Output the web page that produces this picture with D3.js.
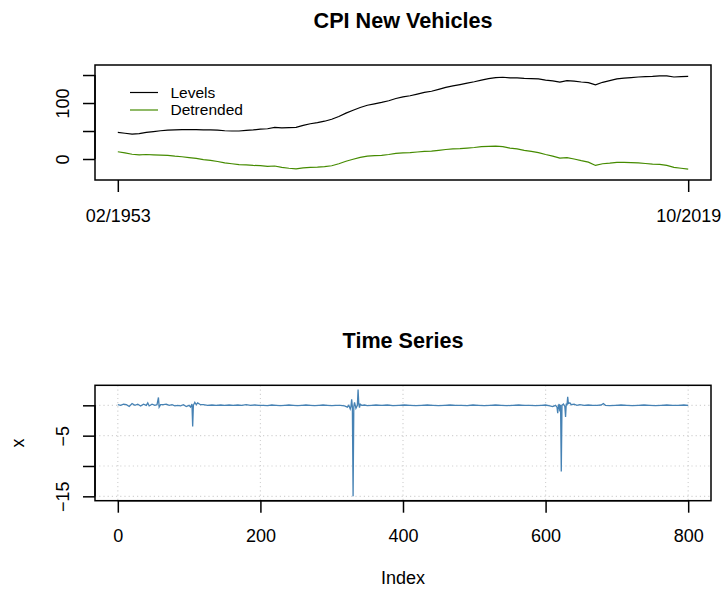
<!doctype html>
<html lang='en'>
<head>
    <meta charset='UTF-8'>
    <title>CPI New Vehicles</title>
    <style>
        body,html{
            margin: 0;
            padding: 0;
            background: #fff;
            font-family: 'Liberation Sans', Arial, sans-serif;
        }
        svg text{
            fill: #000;
        }
        .axis path,
        .axis line{
            fill: none;
            stroke: #000;
            stroke-width: 1.5px;
        }
        .grid line{
            stroke: #d3d3d3;
            stroke-width: 1.2px;
            stroke-dasharray: 1.2,3;
        }
        .box{
            fill: none;
            stroke: #000;
            stroke-width: 1.5px;
        }
    </style>
</head>
<body>
<script src='https://d3js.org/d3.v7.min.js'></script>
<script>
  // top panel: month index 0 = 02/1953, 800 = 10/2019, sampled every 10 months
  const monthIdx = d3.range(0, 801, 10)
  const levels = [
    47.5, 46, 44.5, 45.5, 47.5, 49, 50.5, 51.5, 52, 52.5,
    52.5, 52.5, 52, 52, 51.5, 50.5, 50, 50, 51, 52,
    53.5, 54, 56.5, 55.5, 56, 56.5, 60, 63, 65, 67.5,
    71, 76, 82, 87, 92, 96, 98.5, 101, 104, 108,
    111, 113, 116, 119, 121, 124.5, 128, 130.5, 133, 135.5,
    138, 141, 143.5, 145.5, 146, 145, 145, 144, 143.5, 143,
    141, 139.5, 137.5, 140, 139, 137.5, 136.5, 132.5, 137, 140,
    143, 144.5, 145.5, 146.5, 147, 147.5, 148.5, 148.5, 146.5, 147,
    147.5
  ]
  const detrended = [
    13, 11, 8.5, 7.5, 8, 7.5, 7, 6.5, 5, 4,
    2.5, 1, -1, -2.5, -4.5, -7, -8.5, -10, -10.5, -11.5,
    -12, -13, -12.5, -15, -16.5, -17.5, -16, -15, -14.5, -13.5,
    -12, -8.5, -4, -0.5, 3, 5, 6, 6.5, 8, 10,
    11, 11.5, 12.5, 13.5, 14, 15.5, 17, 18, 18.5, 19.5,
    20.5, 22, 22.5, 23, 22, 19.5, 18, 15.5, 13.5, 11.5,
    8, 5, 1.5, 2.5, 0, -3, -5.5, -11.5, -8.5, -7.5,
    -6, -6, -6.5, -7, -8, -9, -9.5, -11.5, -15, -16.5,
    -18
  ]
  const topXTicks = [0, 800]
  const topXLabels = ['02/1953', '10/2019']
  const topYTicks = [0, 50, 100, 150]
  const topYLabelled = [0, 100]

  // bottom panel: monthly changes (index, value)
  const diffIdx = [
    0, 4, 8, 12, 16, 20, 24, 28, 32, 36, 40, 42, 44, 48, 52, 55, 57, 58, 60, 64,
    68, 72, 76, 80, 84, 88, 92, 96, 100, 102, 104, 105, 106, 108, 110, 112, 116, 120, 126, 132,
    138, 144, 150, 156, 162, 168, 174, 180, 186, 192, 198, 204, 210, 216, 222, 228, 234, 240, 246, 252,
    258, 264, 270, 276, 282, 288, 294, 300, 306, 312, 318, 322, 324, 326, 327, 328, 329, 330, 331, 332,
    334, 336, 337, 338, 339, 340, 342, 346, 350, 356, 362, 370, 378, 386, 394, 402, 410, 418, 426, 434,
    442, 450, 458, 466, 474, 482, 490, 498, 506, 514, 522, 530, 538, 546, 554, 562, 570, 578, 586, 594,
    600, 606, 610, 614, 616, 617, 618, 619, 620, 621, 622, 623, 625, 627, 628, 629, 630, 631, 632, 634,
    636, 640, 644, 648, 654, 660, 666, 672, 678, 681, 684, 690, 698, 706, 714, 722, 730, 738, 746, 754,
    762, 770, 778, 786, 794, 800
  ]
  const diffVal = [
    0.1, 0.0, 0.2, 0.1, -0.2, 0.3, 0.0, 0.2, -0.1, 0.2, 0.0, 0.4, -0.1, 0.2, 0.0, 0.1, 1.3, -0.3, 0.1, 0.1,
    0.2, 0.0, 0.1, -0.1, 0.0, -0.1, 0.1, -0.2, 0.0, -0.3, 0.2, -3.5, 0.0, 0.5, 0.1, 0.4, 0.1, 0.1, 0.0, 0.05,
    0.0, 0.05, 0.0, 0.05, 0.0, 0.05, 0.0, 0.1, 0.0, 0.05, 0.0, 0.0, -0.05, 0.05, 0.0, -0.05, 0.0, 0.05, 0.0, -0.05,
    0.0, 0.05, 0.0, -0.05, 0.0, 0.05, 0.0, -0.05, 0.0, 0.0, -0.1, -0.3, 0.0, -0.6, -0.2, 1.0, -0.3, -15.0, -0.2, 0.5,
    -0.5, 0.0, 2.6, 0.2, -0.4, 0.2, 0.0, 0.05, -0.05, 0.0, 0.05, 0.0, 0.05, -0.05, 0.0, 0.05, 0.0, -0.05, 0.0, 0.05,
    0.0, -0.05, 0.0, 0.05, 0.0, 0.0, -0.05, 0.05, 0.0, -0.05, 0.0, 0.05, 0.0, -0.05, 0.0, 0.05, 0.0, 0.0, -0.05, 0.0,
    0.05, -0.1, -0.2, 0.0, -0.3, -1.3, -0.1, 0.2, -1.0, 0.1, -10.9, 0.0, 0.2, -0.2, -1.9, 0.3, 0.0, 1.4, 0.3, 0.4,
    0.1, 0.2, 0.0, 0.1, 0.0, 0.05, 0.0, 0.0, 0.05, 0.3, 0.0, -0.05, 0.0, 0.05, 0.0, -0.05, 0.0, 0.05, 0.0, -0.05,
    0.0, 0.05, 0.0, 0.0, 0.05, 0.0
  ]
  const botXTicks = [0, 200, 400, 600, 800]
  const botYTicks = [0, -5, -10, -15]
  const botYLabelled = [-5, -15]

  const W = 726
  const H = 592
  const fs = 18

  const svg = d3.select('body').append('svg')
    .attr('width', W)
    .attr('height', H)
    .style('display', 'block')

  // same horizontal extent for both panels
  const left = 95, right = 711

  /******************** top panel ********************/
  const top1 = 65, bottom1 = 180

  const x1 = d3.scaleLinear().domain([-32, 832]).range([left, right])
  const y1 = d3.scaleLinear().domain([-37.5, 167.9]).range([bottom1, top1])

  const topData = monthIdx.map((m, i) => ({m: m, lev: levels[i], det: detrended[i]}))

  svg.append('path')
    .datum(topData)
    .attr('fill', 'none')
    .attr('stroke', '#000')
    .attr('stroke-width', 1.2)
    .attr('d', d3.line().x(d => x1(d.m)).y(d => y1(d.lev)))

  svg.append('path')
    .datum(topData)
    .attr('fill', 'none')
    .attr('stroke', '#458B00')
    .attr('stroke-width', 1.2)
    .attr('d', d3.line().x(d => x1(d.m)).y(d => y1(d.det)))

  svg.append('rect')
    .classed('box', true)
    .attr('x', left).attr('y', top1)
    .attr('width', right - left).attr('height', bottom1 - top1)

  const xAxis1 = svg.append('g')
    .classed('axis', true)
    .attr('transform', `translate(0, ${bottom1})`)
    .call(d3.axisBottom(x1).tickValues(topXTicks).tickSizeOuter(0).tickSize(12)
      .tickFormat((d, i) => topXLabels[i]))
  xAxis1.select('.domain').remove()
  xAxis1.selectAll('text')
    .attr('y', 29)
    .attr('dy', '0.71em')
    .style('font-size', fs + 'px')

  const yAxis1 = svg.append('g')
    .classed('axis', true)
    .attr('transform', `translate(${left}, 0)`)
    .call(d3.axisLeft(y1).tickValues(topYTicks).tickSizeOuter(0).tickSize(12)
      .tickFormat(d => topYLabelled.includes(d) ? d3.format('d')(d).replace('-', '\u2212') : ''))
  yAxis1.select('.domain').attr('d', `M0,${y1(150)}V${y1(0)}`)
  yAxis1.selectAll('text')
    .attr('transform', 'rotate(-90)')
    .attr('x', 0)
    .attr('y', -32)
    .attr('dy', '0.35em')
    .style('text-anchor', 'middle')
    .style('font-size', fs + 'px')

  svg.append('text')
    .attr('x', (left + right) / 2)
    .attr('y', 28)
    .style('text-anchor', 'middle')
    .style('font-weight', 'bold')
    .style('font-size', '21.6px')
    .text('CPI New Vehicles')

  // legend (no frame)
  const legend = svg.append('g')
  const legendItems = [
    {label: 'Levels', color: '#000', y: 92.5},
    {label: 'Detrended', color: '#458B00', y: 110}
  ]
  legendItems.forEach(item => {
    legend.append('line')
      .attr('x1', 130).attr('x2', 158)
      .attr('y1', item.y).attr('y2', item.y)
      .attr('stroke', item.color)
      .attr('stroke-width', 1.2)
    legend.append('text')
      .attr('x', 170.5)
      .attr('y', item.y)
      .attr('dy', '0.35em')
      .style('font-size', '15.5px')
      .text(item.label)
  })

  /******************** bottom panel ********************/
  const top2 = 385.3, bottom2 = 500.7

  const x2 = d3.scaleLinear().domain([-32, 832]).range([left, right])
  const y2 = d3.scaleLinear().domain([-15.72, 3.3]).range([bottom2, top2])

  // grid
  const grid = svg.append('g').classed('grid', true)
  grid.selectAll('.gx')
    .data(botXTicks)
    .enter()
    .append('line')
    .attr('x1', d => x2(d)).attr('x2', d => x2(d))
    .attr('y1', top2).attr('y2', bottom2)
  grid.selectAll('.gy')
    .data(botYTicks)
    .enter()
    .append('line')
    .attr('x1', left).attr('x2', right)
    .attr('y1', d => y2(d)).attr('y2', d => y2(d))

  const botData = diffIdx.map((k, i) => ({k: k, v: diffVal[i]}))
  svg.append('path')
    .datum(botData)
    .attr('fill', 'none')
    .attr('stroke', '#4682B4')
    .attr('stroke-width', 1.3)
    .attr('d', d3.line().x(d => x2(d.k)).y(d => y2(d.v)))

  svg.append('rect')
    .classed('box', true)
    .attr('x', left).attr('y', top2)
    .attr('width', right - left).attr('height', bottom2 - top2)

  const xAxis2 = svg.append('g')
    .classed('axis', true)
    .attr('transform', `translate(0, ${bottom2})`)
    .call(d3.axisBottom(x2).tickValues(botXTicks).tickSizeOuter(0).tickSize(12))
  xAxis2.select('.domain').attr('d', `M${x2(0)},0H${x2(800)}`)
  xAxis2.selectAll('text')
    .attr('y', 29)
    .attr('dy', '0.71em')
    .style('font-size', fs + 'px')

  const yAxis2 = svg.append('g')
    .classed('axis', true)
    .attr('transform', `translate(${left}, 0)`)
    .call(d3.axisLeft(y2).tickValues(botYTicks).tickSizeOuter(0).tickSize(12)
      .tickFormat(d => botYLabelled.includes(d) ? String(d).replace('-', '\u2212') : ''))
  yAxis2.select('.domain').attr('d', `M0,${y2(0)}V${y2(-15)}`)
  yAxis2.selectAll('text')
    .attr('transform', 'rotate(-90)')
    .attr('x', 0)
    .attr('y', -32)
    .attr('dy', '0.35em')
    .style('text-anchor', 'middle')
    .style('font-size', fs + 'px')

  svg.append('text')
    .attr('x', (left + right) / 2)
    .attr('y', 348)
    .style('text-anchor', 'middle')
    .style('font-weight', 'bold')
    .style('font-size', '21.6px')
    .text('Time Series')

  svg.append('text')
    .attr('x', (left + right) / 2)
    .attr('y', 584)
    .style('text-anchor', 'middle')
    .style('font-size', fs + 'px')
    .text('Index')

  svg.append('text')
    .attr('transform', `translate(18, ${(top2 + bottom2) / 2}) rotate(-90)`)
    .attr('dy', '0.35em')
    .style('text-anchor', 'middle')
    .style('font-size', fs + 'px')
    .text('x')
</script>
</body>
</html>
